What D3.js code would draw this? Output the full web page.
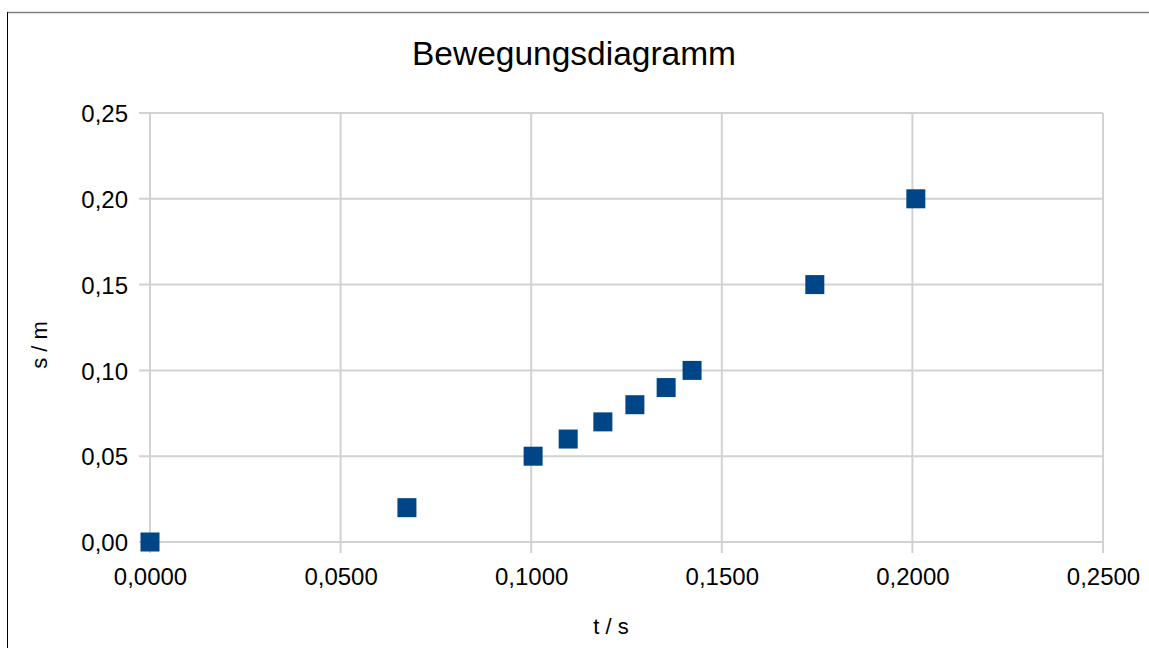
<!DOCTYPE html>
<html>
<head>
<meta charset="utf-8">
<script src="https://cdn.jsdelivr.net/npm/d3@7"></script>
<style>
  body { margin: 0; background: #fff; }
  text { font-family: "Liberation Sans", Arial, sans-serif; fill: #000; }
</style>
</head>
<body>
<div id="chart"></div>
<script>
// t in s, s in m
var tValues = [0, 0.0674, 0.1005, 0.1097, 0.1188, 0.1272, 0.1354, 0.1422, 0.1744, 0.2009];
var sValues = [0, 0.02, 0.05, 0.06, 0.07, 0.08, 0.09, 0.10, 0.15, 0.20];
var xTicks = [0, 0.05, 0.1, 0.15, 0.2, 0.25];
var yTicks = [0, 0.05, 0.1, 0.15, 0.2, 0.25];

var width = 1149, height = 648;
var margin = {top: 113, right: 46, bottom: 106, left: 150};

var svg = d3.select('#chart').append('svg')
  .attr('width', width)
  .attr('height', height);

// frame edges of the screenshot
svg.append('line')
  .attr('x1', 7).attr('x2', width).attr('y1', 12.5).attr('y2', 12.5)
  .style('stroke', '#7f7f7f').style('stroke-width', 1.5);
svg.append('line')
  .attr('x1', 7.5).attr('x2', 7.5).attr('y1', 12).attr('y2', height)
  .style('stroke', '#000').style('stroke-width', 1);

var x = d3.scaleLinear()
  .domain([0, 0.25])
  .range([margin.left, width - margin.right]);

var y = d3.scaleLinear()
  .domain([0, 0.25])
  .range([height - margin.bottom, margin.top]);

var fmt = (n, d) => n.toFixed(d).replace('.', ',');

// grid
svg.append('g')
  .attr('class', 'grid')
  .selectAll('line.v')
  .data(xTicks)
  .enter().append('line')
    .attr('x1', d => x(d)).attr('x2', d => x(d))
    .attr('y1', margin.top).attr('y2', y(0) + 11)
    .style('stroke', '#d2d2d2').style('stroke-width', 2);

svg.append('g')
  .attr('class', 'grid')
  .selectAll('line.h')
  .data(yTicks)
  .enter().append('line')
    .attr('x1', x(0) - 11).attr('x2', x(0.25))
    .attr('y1', d => y(d)).attr('y2', d => y(d))
    .style('stroke', '#d2d2d2').style('stroke-width', 2);

// axes (labels only, lines drawn above)
var xAxis = svg.append('g')
  .attr('transform', 'translate(0,' + y(0) + ')')
  .call(d3.axisBottom(x).tickValues(xTicks).tickSize(0).tickPadding(0).tickFormat(d => fmt(d, 4)));
xAxis.select('.domain').remove();
xAxis.selectAll('text')
  .attr('y', 43)
  .attr('dy', null)
  .style('font-size', '24px');

var yAxis = svg.append('g')
  .attr('transform', 'translate(' + x(0) + ',0)')
  .call(d3.axisLeft(y).tickValues(yTicks).tickSize(0).tickPadding(22).tickFormat(d => fmt(d, 2)));
yAxis.select('.domain').remove();
yAxis.selectAll('text')
  .attr('dy', '0.36em')
  .style('font-size', '24px');

// title
svg.append('text')
  .attr('x', 574)
  .attr('y', 65)
  .attr('text-anchor', 'middle')
  .style('font-size', '33.5px')
  .text('Bewegungsdiagramm');

svg.append('text')
  .attr('x', 611)
  .attr('y', 634)
  .attr('text-anchor', 'middle')
  .style('font-size', '22px')
  .text('t / s');

svg.append('text')
  .attr('transform', 'translate(47,345) rotate(-90)')
  .attr('text-anchor', 'middle')
  .style('font-size', '22px')
  .text('s / m');

// data
var points = tValues.map((t, i) => ({t: t, s: sValues[i]}));
var size = 19;

svg.append('g')
  .attr('class', 'points')
  .selectAll('rect')
  .data(points)
  .enter().append('rect')
    .attr('x', d => x(d.t) - size / 2)
    .attr('y', d => y(d.s) - size / 2)
    .attr('width', size)
    .attr('height', size)
    .style('fill', '#004586');
</script>
</body>
</html>
